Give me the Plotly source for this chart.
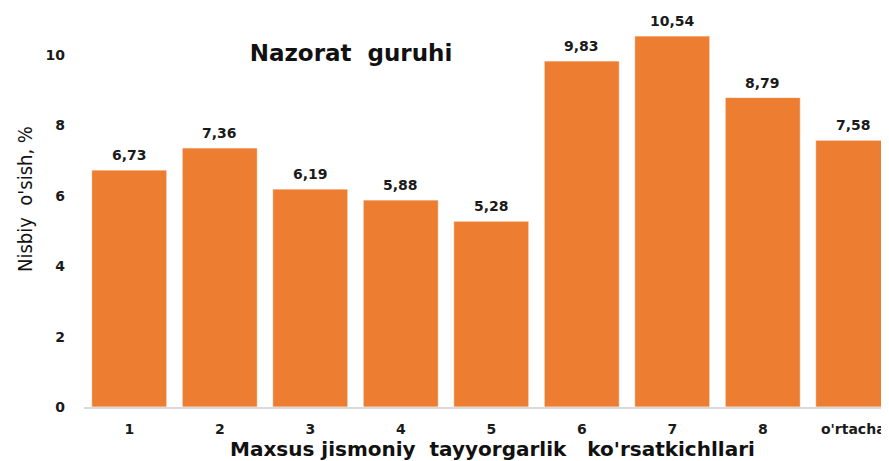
import plotly.graph_objects as go

categories = ["1", "2", "3", "4", "5", "6", "7", "8", "o'rtacha"]
values = [6.73, 7.36, 6.19, 5.88, 5.28, 9.83, 10.54, 8.79, 7.58]
y_ticks = [0, 2, 4, 6, 8, 10]

labels = [f"{v:.2f}".replace(".", ",") for v in values]

BAR = "#ED7D31"
# the page body has an 8px margin, so the figure is sized to the visible part
W, H = 881, 453
L, B = 76, 54
STEP = 90.5      # pixels per category
UNIT = 35.2      # pixels per y unit
PH = H - B       # plot height in pixels
PW = W - L

fig = go.Figure()
fig.add_trace(go.Bar(
    x=categories, y=values,
    marker=dict(color=BAR, line=dict(color="rgba(255,255,255,0.7)", width=1)),
    width=0.83,
    hoverinfo="x+y",
))

for i, (v, t) in enumerate(zip(values, labels)):
    fig.add_annotation(x=i, y=v, text=t, showarrow=False, yshift=15,
                       yanchor="middle",
                       font=dict(family="DejaVu Sans", size=14, color="#1a1a1a", weight="bold"))

# y-axis title
fig.add_annotation(xref="paper", yref="paper", x=(17 - L) / PW, y=(PH - 191) / PH,
                   text="Nisbiy\u00a0 o'sish, %", textangle=-90, showarrow=False,
                   xanchor="center", yanchor="middle",
                   font=dict(family="Liberation Sans Narrow, DejaVu Sans Condensed, Liberation Sans",
                             size=20, color="#111111"))

# x-axis title (centred on the full category span)
fig.add_annotation(xref="paper", yref="paper", x=(484 - L) / PW, y=(PH - 441) / PH,
                   text="Maxsus jismoniy\u00a0 tayyorgarlik\u00a0\u00a0 ko'rsatkichllari",
                   showarrow=False, xanchor="center", yanchor="middle",
                   font=dict(family="DejaVu Sans", size=20, color="#111111", weight="bold"))

fig.update_layout(
    width=W, height=H,
    margin=dict(l=L, r=0, t=0, b=B, pad=0),
    paper_bgcolor="white", plot_bgcolor="white",
    showlegend=False,
    bargap=0.17,
    title=dict(text="Nazorat\u00a0 guruhi", xref="paper", x=(343 - L) / PW, xanchor="center",
               yref="container", y=1 - 45 / H, yanchor="middle",
               font=dict(family="DejaVu Sans", size=23, color="#111111", weight="bold")),
)
fig.update_xaxes(
    type="category",
    range=[-0.5, -0.5 + PW / STEP],
    showline=True, linecolor="#D9D9D9", linewidth=1.5,
    showgrid=False, zeroline=False,
    ticks="", ticklabelstandoff=8,
    tickfont=dict(family="DejaVu Sans", size=14, color="#1a1a1a", weight="bold"),
    automargin=False,
)
fig.update_yaxes(
    range=[0, PH / UNIT],
    tickvals=y_ticks, ticktext=[str(t) for t in y_ticks],
    showgrid=False, zeroline=False, showline=False,
    ticks="", ticklabelstandoff=18,
    tickfont=dict(family="DejaVu Sans", size=14, color="#1a1a1a", weight="bold"),
    automargin=False,
)

fig.write_html("out.html")
